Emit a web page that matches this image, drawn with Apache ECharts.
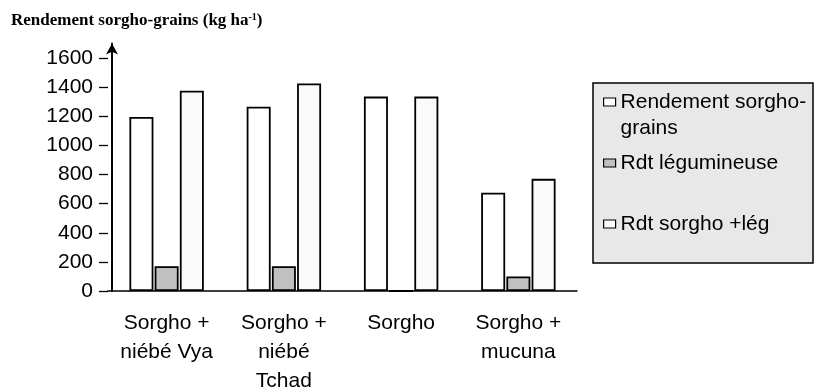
<!DOCTYPE html>
<html>
<head>
<meta charset="utf-8">
<script src="https://cdn.jsdelivr.net/npm/echarts@6/dist/echarts.min.js"></script>
<style>
  html, body { margin: 0; padding: 0; background: #ffffff; }
  #chart { width: 815px; height: 390px; }
</style>
</head>
<body>
<div id="chart"></div>
<script>
// Treatments (x categories)
const categories = ['Sorgho +\nniébé Vya', 'Sorgho +\nniébé\nTchad', 'Sorgho', 'Sorgho +\nmucuna'];

// Yields, kg/ha
const rendementSorgho = [1195, 1265, 1335, 675];
const rdtLegumineuse = [170, 170, 0, 100];
const rdtSorghoLeg = [1375, 1425, 1335, 770];

// Value-axis range and ticks
const yMax = 1600;
const yStep = 200;
// the arrowed axis line runs a little above the last tick
const arrowAxisMax = 1700;

const seriesNames = ['Rendement sorgho-grains', 'Rdt légumineuse', 'Rdt sorgho +lég'];

const SANS = 'Liberation Sans, Arial, sans-serif';
const SERIF = 'Liberation Serif, Times New Roman, serif';

const chart = echarts.init(document.getElementById('chart'), null, { renderer: 'canvas' });

const barBase = {
  type: 'bar',
  xAxisIndex: 0,
  yAxisIndex: 0,
  barWidth: 24,
  barGap: '5%',
  emphasis: { disabled: true }
};

function legendAt(name, top, formatter) {
  return {
    show: true,
    data: [name],
    orient: 'vertical',
    left: 603,
    top: top,
    padding: 0,
    itemWidth: 12,
    itemHeight: 8,
    selectedMode: false,
    icon: 'rect',
    itemStyle: { borderColor: '#000', borderWidth: 1.2 },
    formatter: formatter,
    textStyle: { fontFamily: SANS, fontSize: 21, color: '#000', lineHeight: 26 }
  };
}

// plot area: 0 at y=291, 1600 at y=58; the arrowed axis sits at x=112
const plotLeft = 108, axisX = 112, plotRight = 238, plotBottom = 99, plotTop = 58;
const arrowTop = 291 - (291 - plotTop) * arrowAxisMax / yMax;

chart.setOption({
  animation: false,
  backgroundColor: '#ffffff',
  title: {
    text: 'Rendement sorgho-grains (kg ha{sup|-1})',
    left: 11,
    top: 12,
    padding: 0,
    textStyle: {
      fontFamily: SERIF,
      fontWeight: 'bold',
      fontSize: 17,
      color: '#000',
      rich: {
        sup: { fontFamily: SERIF, fontWeight: 'bold', fontSize: 10, color: '#000', padding: [0, 0, 7, 0] }
      }
    }
  },
  graphic: [{
    type: 'rect',
    z: -10,
    shape: { x: 593, y: 83, width: 220, height: 180 },
    style: { fill: '#e8e8e8', stroke: '#000', lineWidth: 1.5 }
  }],
  legend: [
    legendAt(seriesNames[0], 63, function () { return ' \nRendement sorgho-\ngrains'; }),
    legendAt(seriesNames[1], 150),
    legendAt(seriesNames[2], 211)
  ],
  grid: [
    { left: plotLeft, right: plotRight, top: plotTop, bottom: plotBottom, containLabel: false, outerBoundsMode: 'none' },
    { left: axisX, right: plotRight, top: arrowTop, bottom: plotBottom, containLabel: false, outerBoundsMode: 'none' }
  ],
  xAxis: [{
    type: 'category',
    gridIndex: 0,
    data: categories,
    axisLine: { show: true, lineStyle: { color: '#000', width: 1.5 } },
    axisTick: { show: false },
    axisLabel: {
      interval: 0,
      margin: 18,
      fontFamily: SANS,
      fontSize: 21,
      lineHeight: 29,
      color: '#000'
    },
    splitLine: { show: false }
  }, {
    type: 'category',
    gridIndex: 1,
    data: categories,
    show: false
  }],
  yAxis: [{
    type: 'value',
    gridIndex: 0,
    min: 0,
    max: yMax,
    interval: yStep,
    axisLine: { show: false },
    axisTick: {
      show: true,
      length: 9,
      lineStyle: { color: '#000', width: 1.3 }
    },
    axisLabel: {
      margin: 15,
      fontFamily: SANS,
      fontSize: 21,
      color: '#000',
      formatter: function (v) { return String(v); }
    },
    splitLine: { show: false }
  }, {
    // arrowed vertical axis line
    type: 'value',
    gridIndex: 1,
    min: 0,
    max: arrowAxisMax,
    axisLine: {
      show: true,
      symbol: ['none', 'arrow'],
      symbolSize: [9, 11],
      lineStyle: { color: '#000', width: 2 }
    },
    axisTick: { show: false },
    axisLabel: { show: false },
    splitLine: { show: false }
  }],
  series: [
    Object.assign({}, barBase, {
      name: seriesNames[0],
      data: rendementSorgho,
      itemStyle: { color: '#ffffff', borderColor: '#000', borderWidth: 1.8 }
    }),
    Object.assign({}, barBase, {
      name: seriesNames[1],
      data: rdtLegumineuse,
      itemStyle: { color: '#c0c0c0', borderColor: '#000', borderWidth: 1.8 }
    }),
    Object.assign({}, barBase, {
      name: seriesNames[2],
      data: rdtSorghoLeg,
      itemStyle: { color: '#fafafa', borderColor: '#000', borderWidth: 1.8 }
    })
  ]
});
</script>
</body>
</html>
